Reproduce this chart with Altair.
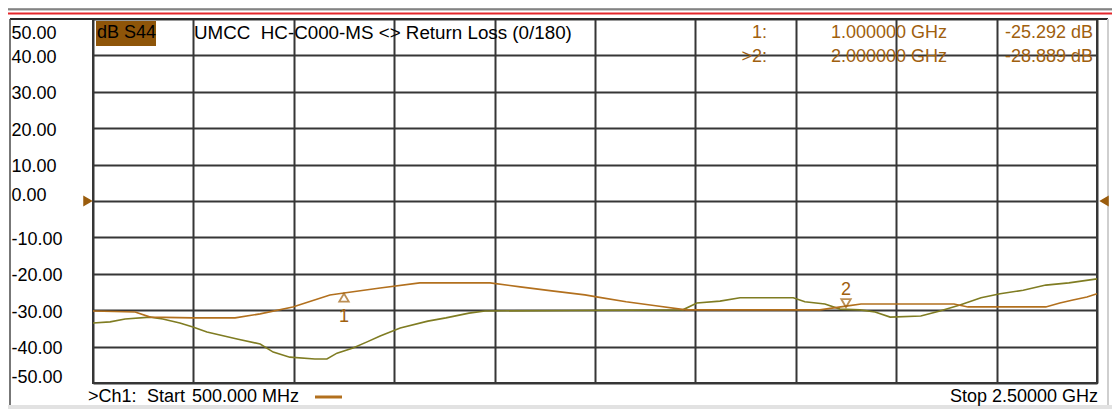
import altair as alt
import pandas as pd

# Trace 1: dB S44 (brown)
s44_freq = [0.500, 0.584, 0.614, 0.699, 0.783, 0.833, 0.898, 0.972, 1.000, 1.072,
            1.151, 1.291, 1.351, 1.414, 1.480, 1.506, 1.562, 1.621, 1.681, 1.948,
            2.000, 2.030, 2.215, 2.243, 2.398, 2.426, 2.452, 2.480, 2.500]
s44_db = [-30.2, -30.5, -31.9, -32.1, -32.1, -31.0, -29.1, -25.8, -25.292, -23.9,
          -22.5, -22.5, -23.6, -24.7, -25.8, -26.4, -27.7, -28.8, -29.9, -29.9,
          -28.889, -28.3, -28.3, -29.1, -29.1, -28.0, -27.2, -26.4, -25.5]

# Trace 2 (olive)
tr2_freq = [0.500, 0.534, 0.564, 0.614, 0.639, 0.673, 0.699, 0.727, 0.787, 0.833,
            0.859, 0.892, 0.942, 0.966, 0.986, 1.018, 1.046, 1.072, 1.112, 1.167,
            1.203, 1.249, 1.281, 1.450, 1.675, 1.703, 1.749, 1.789, 1.895, 1.918,
            1.958, 1.988, 2.028, 2.058, 2.088, 2.149, 2.187, 2.227, 2.269, 2.307,
            2.353, 2.398, 2.444, 2.500]
tr2_db = [-33.5, -33.2, -32.4, -31.9, -32.4, -33.5, -34.6, -36.0, -37.9, -39.3,
          -41.5, -42.9, -43.4, -43.4, -41.8, -40.4, -38.7, -37.1, -34.9, -33.0,
          -32.1, -30.8, -30.2, -30.1, -29.9, -28.0, -27.5, -26.6, -26.6, -27.7,
          -28.3, -29.7, -29.9, -30.5, -31.9, -31.6, -30.2, -28.6, -26.6, -25.5,
          -24.5, -23.1, -22.5, -21.4]

x_grid = [0.5, 0.7, 0.9, 1.1, 1.3, 1.5, 1.7, 1.9, 2.1, 2.3, 2.5]
y_ticks = [50, 40, 30, 20, 10, 0, -10, -20, -30, -40, -50]

marker_ids = ["1", "2"]
marker_prefix = ["1:", ">2:"]
marker_freq = [1.0, 2.0]
marker_db = [-25.292, -28.889]
marker_freq_txt = ["1.000000 GHz", "2.000000 GHz"]
marker_db_txt = ["-25.292 dB", "-28.889 dB"]

header_param = "dB S44"
header_title = "UMCC\u00a0\u00a0HC-C000-MS <> Return Loss (0/180)"
footer_left_words = [">Ch1:", "Start", "500.000", "MHz"]
footer_left_x = [-5, 54, 99, 169]
footer_right = "Stop 2.50000 GHz"

# ---------------- styling ----------------
FONT = "Liberation Sans"
BROWN = "#B2701E"
BROWN_TXT = "#A0600E"
OLIVE = "#7F7C22"
GRID = "#363636"
W, H = 1004, 364

x_scale = alt.Scale(domain=[0.5, 2.5], nice=False, zero=False)
y_scale = alt.Scale(domain=[-50, 50], nice=False, zero=False)

x_axis = alt.Axis(values=x_grid, labels=False, ticks=False, domain=False,
                  grid=True, gridColor=GRID, gridWidth=2, gridOpacity=1, title=None)
y_axis = alt.Axis(values=y_ticks,
                  labelExpr="(datum.value < 0 ? '-' : '') + format(abs(datum.value), '.2f')",
                  ticks=False, tickSize=0, domain=False, grid=True,
                  gridColor=GRID, gridWidth=2, gridOpacity=1, title=None,
                  labelAlign="left", labelBaseline="middle", labelPadding=82,
                  labelOverlap=False, labelFlush=False, labelBound=False,
                  labelFont=FONT, labelFontSize=18, labelColor="#000000",
                  labelOffset={"condition": [
                      {"test": "datum.value == 50", "value": 14},
                      {"test": "datum.value == 0 || datum.value == -50", "value": -6}],
                      "value": 2})

t1 = pd.DataFrame({"f": s44_freq, "db": s44_db})
t2 = pd.DataFrame({"f": tr2_freq, "db": tr2_db})

X = alt.X("f:Q", scale=x_scale, axis=x_axis)
Y = alt.Y("db:Q", scale=y_scale, axis=y_axis)

olive_line = alt.Chart(t2).mark_line(color=OLIVE, strokeWidth=1.6).encode(x=X, y=Y)
brown_line = alt.Chart(t1).mark_line(color=BROWN, strokeWidth=1.6).encode(x=X, y=Y)

mk = pd.DataFrame({"id": marker_ids, "f": marker_freq, "db": marker_db})
mk1 = mk[mk["id"] == "1"]
mk2 = mk[mk["id"] == "2"]

m1_tri = alt.Chart(mk1).mark_point(shape="triangle-up", filled=False, color=BROWN_TXT,
                                   strokeWidth=1.8, size=90, yOffset=4.5).encode(x=X, y=Y)
m1_txt = alt.Chart(mk1).mark_text(font=FONT, fontSize=18, color=BROWN_TXT, dy=24,
                                  baseline="middle").encode(x=X, y=Y, text="id:N")
m2_tri = alt.Chart(mk2).mark_point(shape="triangle-down", filled=False, color=BROWN_TXT,
                                   strokeWidth=1.8, size=90, yOffset=-3).encode(x=X, y=Y)
m2_txt = alt.Chart(mk2).mark_text(font=FONT, fontSize=18, color=BROWN_TXT, dy=-16,
                                  baseline="middle").encode(x=X, y=Y, text="id:N")

# reference-level arrows at 0 dB
ref = pd.DataFrame({"db": [0]})
ref_l = alt.Chart(ref).mark_point(shape="triangle-right", filled=True, color="#9A5C0C",
                                  size=120, opacity=1).encode(x=alt.value(-5), y=Y)
ref_r = alt.Chart(ref).mark_point(shape="triangle-left", filled=True, color="#9A5C0C",
                                  size=120, opacity=1).encode(x=alt.value(W + 7), y=Y)

one = pd.DataFrame({"k": [0]})


def rule_h(x1, x2, y, color, w):
    return alt.Chart(one).mark_rule(color=color, strokeWidth=w).encode(
        x=alt.value(x1), x2=alt.value(x2), y=alt.value(y))


def rule_v(x, y1, y2, color, w):
    return alt.Chart(one).mark_rule(color=color, strokeWidth=w).encode(
        x=alt.value(x), y=alt.value(y1), y2=alt.value(y2))


def txt(s, x, y, color, align="left", size=18, baseline="middle"):
    return alt.Chart(pd.DataFrame({"t": [s]})).mark_text(
        align=align, baseline=baseline, font=FONT, fontSize=size, color=color
    ).encode(text="t:N", x=alt.value(x), y=alt.value(y))


frame = [
    rule_h(-85, W + 15, -10.5, "#9a9a9a", 1),
    rule_h(-85, W + 15, -9.2, "#505050", 1),
    rule_h(-85, W + 15, -5.5, "#E3262B", 2),
    rule_h(-83, W + 11, 0, "#2a2a2a", 2),
    rule_v(-83, 0, 386, "#4a4a4a", 1.5),
    rule_v(W + 11, 0, 386, "#cfcfcf", 2),
    rule_h(-85, W + 15, 388, "#e2e2e2", 4),
]

param_box = alt.Chart(one).mark_rect(color="#8E5509").encode(
    x=alt.value(3), x2=alt.value(63), y=alt.value(2), y2=alt.value(27))

FOOT_Y = 383
texts = [
    txt(header_param, 4, 14, "#000000"),
    txt(header_title, 101, 14, "#000000", size=18.8),
    txt(marker_prefix[0], 674, 14, BROWN_TXT, align="right"),
    txt(marker_freq_txt[0], 738, 14, BROWN_TXT),
    txt(marker_db_txt[0], 1000, 14, BROWN_TXT, align="right"),
    txt(marker_prefix[1], 674, 38, BROWN_TXT, align="right"),
    txt(marker_freq_txt[1], 738, 38, BROWN_TXT),
    txt(marker_db_txt[1], 1000, 38, BROWN_TXT, align="right"),
    txt(footer_right, 1005, FOOT_Y, "#000000", align="right", baseline="alphabetic"),
]
for w_, x_ in zip(footer_left_words, footer_left_x):
    texts.append(txt(w_, x_, FOOT_Y, "#000000", baseline="alphabetic"))
dash = rule_h(222, 249, 378, BROWN, 3)

chart = alt.layer(
    olive_line, brown_line, *frame, param_box, *texts, dash,
    m1_tri, m1_txt, m2_tri, m2_txt, ref_l, ref_r,
).properties(
    width=W, height=H,
    padding={"left": 85, "top": 11, "right": 15, "bottom": 26},
    autosize=alt.AutoSizeParams(type="none"),
    background="#ffffff",
).configure_view(
    stroke=GRID, strokeWidth=2
).configure_axis(
    labelOverlap=False
)

chart.save("out.html", embed_options={"renderer": "svg", "actions": False})
